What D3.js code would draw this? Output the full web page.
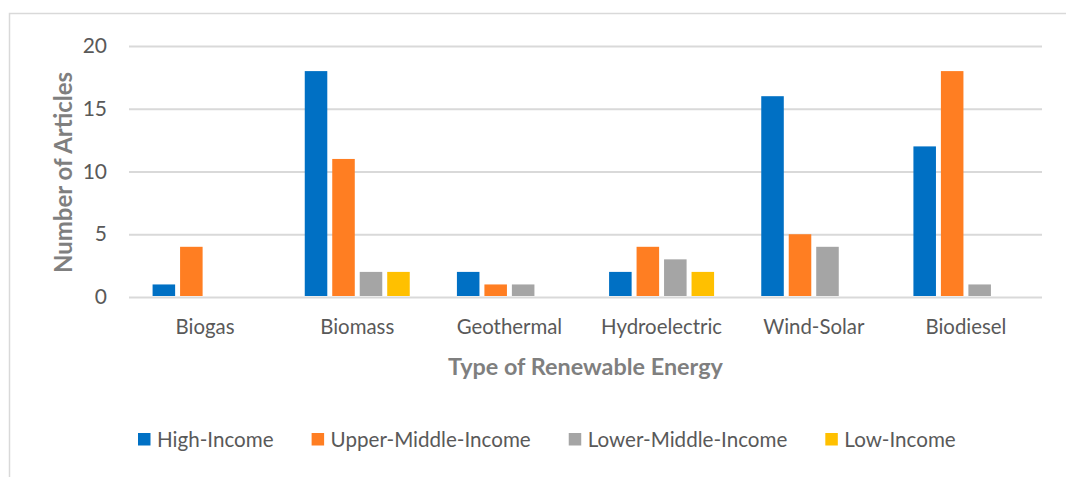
<!DOCTYPE html>
<html>
<head>
<meta charset="utf-8">
<script src="https://cdn.jsdelivr.net/npm/d3@7"></script>
<style>
  html, body { margin: 0; padding: 0; background: #ffffff; }
  svg { display: block; }
  text { font-family: Lato, "Open Sans", sans-serif; }
</style>
</head>
<body>
<svg id="chart" width="1066" height="477"></svg>
<script>
// Articles per renewable-energy type, split by country income group
const categories = ["Biogas", "Biomass", "Geothermal", "Hydroelectric", "Wind-Solar", "Biodiesel"];
const seriesNames = ["High-Income", "Upper-Middle-Income", "Lower-Middle-Income", "Low-Income"];
const highIncome = [1, 18, 2, 2, 16, 12];
const upperMiddleIncome = [4, 11, 1, 4, 5, 18];
const lowerMiddleIncome = [0, 2, 1, 3, 4, 1];
const lowIncome = [0, 2, 0, 2, 0, 0];
const yTicks = [0, 5, 10, 15, 20];
const seriesColors = ["#0070c4", "#ff7e22", "#a5a5a5", "#ffc000"];

const seriesValues = [highIncome, upperMiddleIncome, lowerMiddleIncome, lowIncome];

const svg = d3.select("#chart");

// outer chart frame (continues past the right and bottom edges)
svg.append("rect")
  .attr("x", 9.5).attr("y", 13.5)
  .attr("width", 1200).attr("height", 600)
  .attr("fill", "none")
  .attr("stroke", "#d9d9d9")
  .attr("stroke-width", 1.5);

const plot = { left: 129, right: 1042, top: 46, bottom: 297 };

const x0 = d3.scaleBand()
  .domain(categories)
  .range([plot.left, plot.right])
  .paddingInner(0).paddingOuter(0);

const bw = x0.bandwidth();
const x1 = d3.scaleBand()
  .domain(seriesNames)
  .range([bw * 0.155, bw * 0.845])
  .paddingInner(0.18).paddingOuter(0);

const y = d3.scaleLinear()
  .domain([0, 20])
  .range([plot.bottom, plot.top]);

// horizontal gridlines and value labels
const yAxis = d3.axisLeft(y)
  .tickValues(yTicks)
  .tickSize(-(plot.right - plot.left))
  .tickPadding(22)
  .tickFormat(d3.format("d"));

const gy = svg.append("g")
  .attr("transform", `translate(${plot.left},0)`)
  .call(yAxis);
gy.select(".domain").remove();
gy.selectAll(".tick line")
  .attr("stroke", "#d9d9d9")
  .attr("stroke-width", 1.8);
gy.selectAll(".tick text")
  .attr("fill", "#595959")
  .style("font-size", "21px");

// grouped bars
const groups = svg.append("g")
  .selectAll("g")
  .data(categories)
  .join("g")
  .attr("transform", d => `translate(${x0(d)},0)`);

groups.selectAll("rect")
  .data((c, i) => seriesNames.map((s, k) => ({ series: s, k, value: seriesValues[k][i] }))
    .filter(d => d.value > 0))
  .join("rect")
  .attr("x", d => x1(d.series))
  .attr("width", x1.bandwidth())
  .attr("y", d => y(d.value))
  .attr("height", d => y(0) - y(d.value) - 1)
  .attr("fill", d => seriesColors[d.k]);

// category labels
const xAxis = d3.axisBottom(x0).tickSize(0).tickPadding(22.5);
const gx = svg.append("g")
  .attr("transform", `translate(0,${plot.bottom})`)
  .call(xAxis);
gx.select(".domain").remove();
gx.selectAll(".tick text")
  .attr("fill", "#595959")
  .style("font-size", "20.4px");

// axis titles
svg.append("text")
  .attr("x", (plot.left + plot.right) / 2)
  .attr("y", 375)
  .attr("text-anchor", "middle")
  .attr("fill", "#7f7f7f")
  .style("font-size", "23.4px")
  .style("font-weight", "bold")
  .text("Type of Renewable Energy");

svg.append("text")
  .attr("transform", "translate(72,172.5) rotate(-90)")
  .attr("text-anchor", "middle")
  .attr("fill", "#7f7f7f")
  .style("font-size", "24px")
  .style("font-weight", "bold")
  .text("Number of Articles");

// legend
const legend = svg.append("g").attr("transform", "translate(138,446.5)");
let lx = 0;
seriesNames.forEach((name, k) => {
  const item = legend.append("g").attr("transform", `translate(${lx},0)`);
  item.append("rect")
    .attr("x", 0).attr("y", -13.5)
    .attr("width", 12.5).attr("height", 12.5)
    .attr("fill", seriesColors[k]);
  const t = item.append("text")
    .attr("x", 19).attr("y", 0)
    .attr("fill", "#595959")
    .style("font-size", "20.6px")
    .text(name);
  lx += 19 + t.node().getComputedTextLength() + 38;
});
</script>
</body>
</html>
